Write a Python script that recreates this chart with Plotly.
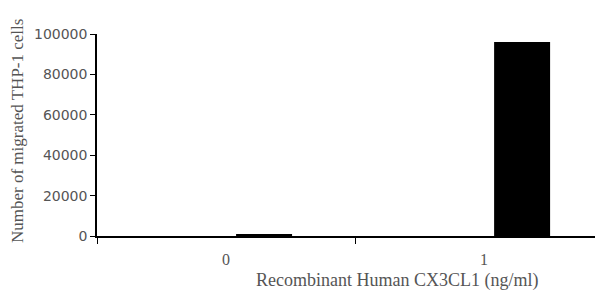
import plotly.graph_objects as go

categories = ["0", "1"]
values = [1000, 96000]
y_ticks = [0, 20000, 40000, 60000, 80000, 100000]
y_tick_labels = ["0", "20000", "40000", "60000", "80000", "100000"]

# page body has an 8px default margin; plot area targeted at x 97..603, y 34..236
PX0, PX1, PY0, PY1 = 97, 603, 34, 236

def paper_x(px):
    return (px - PX0) / (PX1 - PX0)

def paper_y(py):
    return (PY1 - py) / (PY1 - PY0)

fig = go.Figure()
fig.add_trace(go.Bar(
    x=categories, y=values,
    marker=dict(color="black", line=dict(width=0)),
    width=0.217, offset=0.039,
))

fig.update_layout(
    width=595, height=286,
    margin=dict(l=89, r=0, t=26, b=58, autoexpand=False),
    plot_bgcolor="white", paper_bgcolor="white",
    showlegend=False,
    xaxis=dict(
        type="category", range=[-0.5, 1.461],
        showline=True, linecolor="black", linewidth=1.5,
        ticks="outside", tickson="boundaries", ticklen=6, tickcolor="black",
        ticklabelstandoff=8,
        tickfont=dict(family="Liberation Serif", size=16, color="#555555"),
        showgrid=False, zeroline=False,
    ),
    yaxis=dict(
        range=[0, 100000], tickvals=y_ticks, ticktext=y_tick_labels,
        showline=True, linecolor="black", linewidth=1.5,
        ticks="outside", ticklen=5, tickcolor="black",
        tickfont=dict(family="DejaVu Sans", size=14, color="#555555"),
        showgrid=False, zeroline=False,
    ),
)
fig.add_annotation(text="Number of migrated THP-1 cells", xref="paper", yref="paper",
                   x=paper_x(17), y=paper_y(131), xanchor="center", yanchor="middle",
                   showarrow=False, textangle=-90,
                   font=dict(family="Liberation Serif", size=17, color="#555555"))
fig.add_annotation(text="Recombinant Human CX3CL1 (ng/ml)", xref="paper", yref="paper",
                   x=paper_x(397), y=paper_y(280), xanchor="center", yanchor="middle",
                   showarrow=False,
                   font=dict(family="Liberation Serif", size=18, color="#555555"))

fig.write_html("out.html")
